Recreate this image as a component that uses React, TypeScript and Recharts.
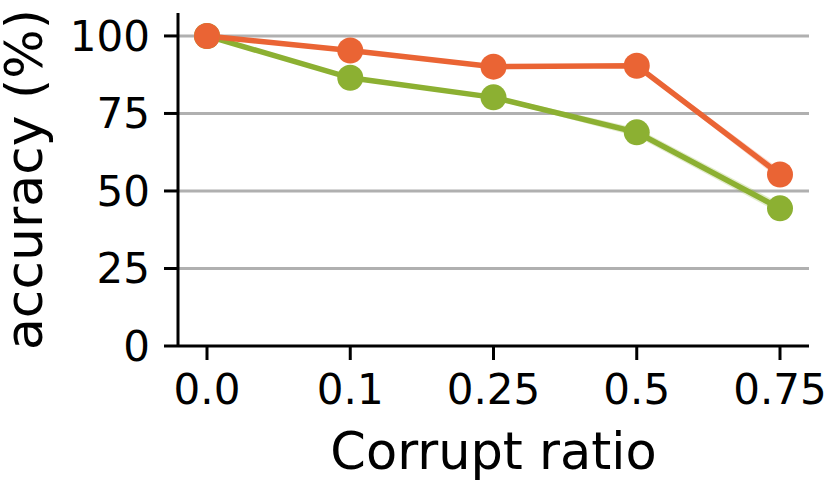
import React from 'react';
import { ComposedChart, Line, Area, XAxis, YAxis, CartesianGrid, Label } from 'recharts';

const categories = ['0.0', '0.1', '0.25', '0.5', '0.75'];
const orangeSeries = [100, 95.3, 90.1, 90.4, 55.3];
const greenSeries = [100, 86.5, 80.2, 68.9, 44.4];
const orangeSpread = [0.2, 0.4, 0.3, 0.6, 1.6];
const greenSpread = [0.2, 0.4, 0.6, 1.3, 1.6];
const yTicks = [0, 25, 50, 75, 100];

const data = categories.map((c, i) => ({
  ratio: c,
  orange: orangeSeries[i],
  green: greenSeries[i],
  orangeBand: [orangeSeries[i] - orangeSpread[i], orangeSeries[i] + orangeSpread[i]],
  greenBand: [greenSeries[i] - greenSpread[i], greenSeries[i] + greenSpread[i]],
}));

const ORANGE = '#EA6434';
const GREEN = '#8CB032';
const FONT = 'DejaVu Sans';

export default function App() {
  return (
    <div style={{ position: 'fixed', left: 0, top: 0, width: 829, height: 483, background: '#fff' }}>
      <ComposedChart
        width={829}
        height={483}
        data={data}
        margin={{ top: 13, right: 20, bottom: 0, left: 0 }}
      >
        <CartesianGrid vertical={false} stroke="#b0b0b0" strokeWidth={3} horizontalValues={[25, 50, 75, 100]} />
        <XAxis
          dataKey="ratio"
          type="category"
          padding={{ left: 29, right: 29 }}
          height={137}
          tickSize={14}
          tickMargin={14}
          axisLine={{ stroke: '#000', strokeWidth: 3 }}
          tickLine={{ stroke: '#000', strokeWidth: 3 }}
          tick={{ fill: '#000', fontSize: 42, fontFamily: FONT }}
          interval={0}
        >
          <Label
            value="Corrupt ratio"
            position="insideBottom"
            offset={14}
            style={{ fill: '#000', fontSize: 51, fontFamily: FONT }}
          />
        </XAxis>
        <YAxis
          type="number"
          domain={[0, 107.4]}
          ticks={yTicks}
          width={178}
          tickSize={14}
          tickMargin={14}
          axisLine={{ stroke: '#000', strokeWidth: 3 }}
          tickLine={{ stroke: '#000', strokeWidth: 3 }}
          tick={{ fill: '#000', fontSize: 42, fontFamily: FONT }}
        >
          <Label
            value="accuracy (%)"
            position="insideLeft"
            angle={-90}
            offset={24}
            style={{ fill: '#000', fontSize: 52, fontFamily: FONT, textAnchor: 'middle' }}
          />
        </YAxis>
        <Area
          dataKey="greenBand"
          stroke="none"
          fill={GREEN}
          fillOpacity={0.25}
          activeDot={false}
          isAnimationActive={false}
        />
        <Area
          dataKey="orangeBand"
          stroke="none"
          fill={ORANGE}
          fillOpacity={0.25}
          activeDot={false}
          isAnimationActive={false}
        />
        <Line
          dataKey="green"
          stroke={GREEN}
          strokeWidth={5.5}
          dot={{ r: 13, fill: GREEN, stroke: GREEN, strokeWidth: 0 }}
          activeDot={false}
          isAnimationActive={false}
        />
        <Line
          dataKey="orange"
          stroke={ORANGE}
          strokeWidth={5.5}
          dot={{ r: 13, fill: ORANGE, stroke: ORANGE, strokeWidth: 0 }}
          activeDot={false}
          isAnimationActive={false}
        />
      </ComposedChart>
    </div>
  );
}
